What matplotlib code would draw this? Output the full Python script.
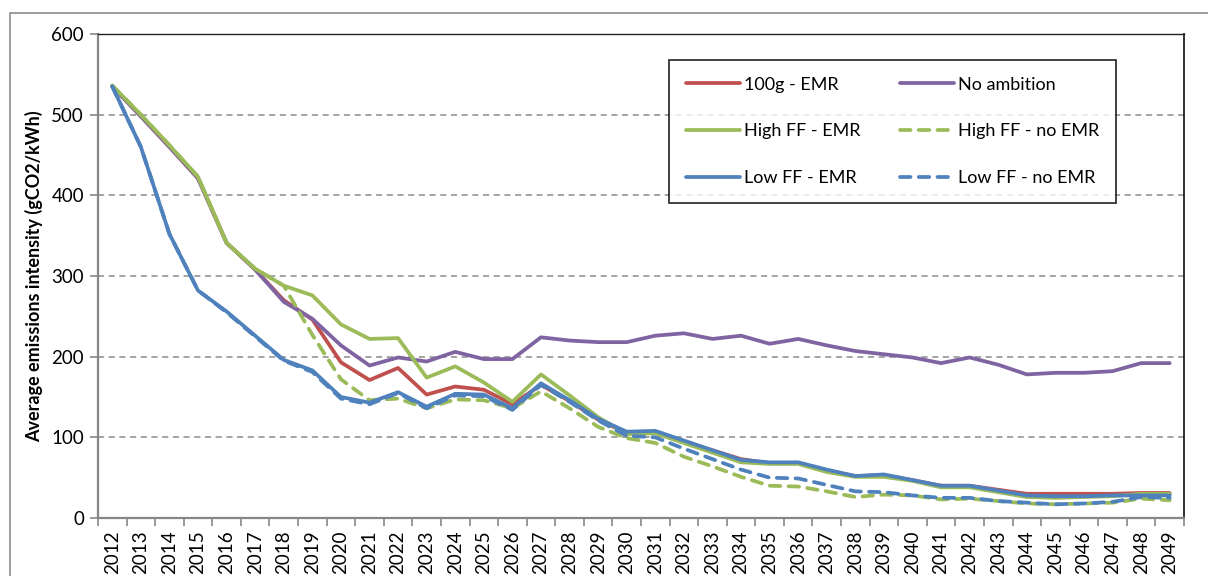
import matplotlib
matplotlib.use("Agg")
import matplotlib.pyplot as plt
from matplotlib.patches import Rectangle

plt.rcParams['font.family'] = ['Lato', 'DejaVu Sans']

years = [str(y) for y in range(2012, 2050)]

emr_100g = [535, 498, 460, 421, 341, 308, 270, 246, 193, 171, 186, 153, 163, 159, 141, 165, 145, 122, 105,
            106, 95, 84, 73, 68, 68, 59, 52, 53, 47, 40, 40, 35, 30, 30, 30, 30, 31, 31]
no_ambition = [535, 498, 460, 421, 341, 308, 268, 247, 214, 189, 199, 194, 206, 197, 197, 224, 220, 218, 218,
               226, 229, 222, 226, 216, 222, 214, 207, 203, 199, 192, 199, 190, 178, 180, 180, 182, 192, 192]
high_ff_emr = [536, 500, 462, 423, 341, 309, 288, 276, 240, 222, 223, 174, 188, 168, 144, 178, 152, 125, 104,
               105, 93, 81, 69, 67, 67, 57, 51, 51, 46, 38, 38, 32, 26, 25, 26, 27, 30, 30]
high_ff_no_emr = [536, 500, 462, 423, 341, 309, 288, 227, 172, 146, 148, 136, 147, 146, 136, 157, 136, 113, 99,
                  93, 76, 64, 51, 40, 39, 33, 26, 29, 28, 23, 24, 21, 18, 17, 18, 19, 24, 22]
low_ff_emr = [535, 460, 352, 282, 256, 226, 196, 183, 150, 143, 156, 138, 154, 153, 136, 167, 146, 123, 107,
              108, 96, 84, 72, 69, 69, 60, 52, 54, 47, 40, 40, 34, 28, 27, 27, 28, 28, 28]
low_ff_no_emr = [535, 460, 352, 282, 255, 225, 195, 181, 148, 141, 155, 136, 152, 151, 134, 165, 144, 121, 102,
                 100, 86, 73, 60, 50, 49, 41, 33, 32, 28, 25, 25, 21, 19, 17, 18, 20, 26, 25]

RED = '#C0504D'
GREEN = '#9BBB59'
BLUE = '#4F81BD'
PURPLE = '#8064A2'

fig = plt.figure(figsize=(12.08, 5.76), dpi=100)
ax = fig.add_axes([98/1208, 1 - 518/576, (1184 - 98)/1208, (518 - 34)/576])

# outer chart frame
fig.patches.append(Rectangle((10/1208, -0.1), 1.2, 1 - 13/576 + 0.1, transform=fig.transFigure,
                             fill=False, edgecolor='#8c8c8c', lw=1.2))

x = list(range(len(years)))
lw = 2.7
dash = (2.8, 2.2)
l1, = ax.plot(x, emr_100g, color=RED, lw=lw, solid_capstyle='round')
l4, = ax.plot(x, no_ambition, color=PURPLE, lw=lw, solid_capstyle='round')
l2, = ax.plot(x, high_ff_emr, color=GREEN, lw=lw, solid_capstyle='round')
l5, = ax.plot(x, high_ff_no_emr, color=GREEN, lw=lw, dashes=dash, dash_capstyle='round')
l3, = ax.plot(x, low_ff_emr, color=BLUE, lw=lw, solid_capstyle='round')
l6, = ax.plot(x, low_ff_no_emr, color=BLUE, lw=lw, dashes=dash, dash_capstyle='round')

ax.set_xlim(-0.5, len(years) - 0.5)
ax.set_ylim(0, 600)
ax.set_yticks(range(0, 601, 100))
ax.tick_params(axis='y', labelsize=13.5, length=6, width=1.2, color='#868686', pad=4)
ax.yaxis.grid(True, color='#8c8c8c', lw=1.1, dashes=(4, 3))
ax.set_axisbelow(True)

ax.set_xticks(x)
ax.set_xticklabels(years, rotation=90, fontsize=13.5)
ax.tick_params(axis='x', which='major', length=0, pad=9)
ax.set_xticks([i - 0.5 for i in range(len(years) + 1)], minor=True)
ax.tick_params(axis='x', which='minor', length=6, width=1.2, color='#868686')

for s in ['left', 'bottom']:
    ax.spines[s].set_color('#868686')
    ax.spines[s].set_linewidth(1.6)
ax.spines['top'].set_color('#222222')
ax.spines['top'].set_linewidth(1.0)
ax.spines['right'].set_color('#222222')
ax.spines['right'].set_linewidth(1.3)

ax.set_ylabel('Average emissions intensity (gCO2/kWh)', fontsize=13, fontweight='bold', labelpad=6)

leg = ax.legend([l1, l2, l3, l4, l5, l6],
                ['100g - EMR', 'High FF - EMR', 'Low FF - EMR',
                 'No ambition', 'High FF - no EMR', 'Low FF - no EMR'],
                ncol=2, loc='upper left', bbox_to_anchor=((669 - 98)/1086, (518 - 60)/484),
                fontsize=13, frameon=True, fancybox=False, handlelength=3.0, handletextpad=0.25,
                labelspacing=1.7, columnspacing=2.15, borderpad=0.92, borderaxespad=0)
leg.get_frame().set_edgecolor('black')
leg.get_frame().set_linewidth(1.3)

fig.savefig('out.png', dpi=100)
